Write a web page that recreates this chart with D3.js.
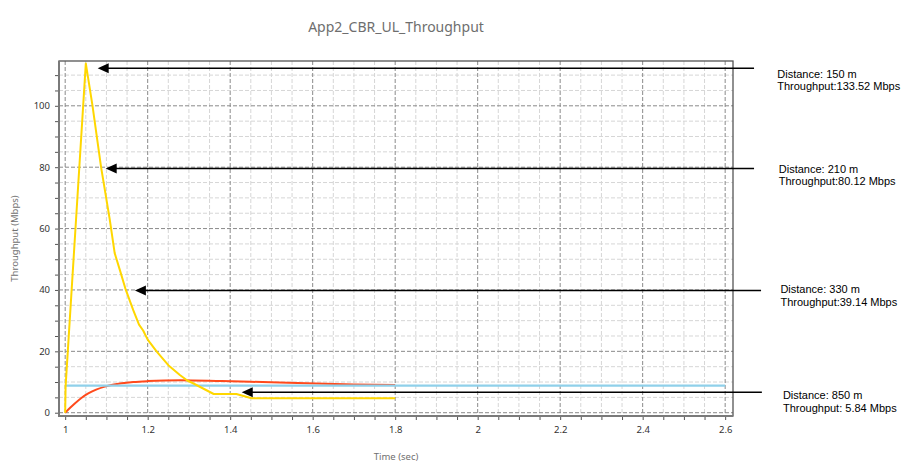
<!DOCTYPE html>
<html>
<head>
<meta charset="utf-8">
<script src="https://cdn.jsdelivr.net/npm/d3@7"></script>
<style>
  html, body { margin: 0; padding: 0; background: #fff; }
  svg { display: block; }
</style>
</head>
<body>
<div id="chart"></div>
<script>
// Series (time in sec, throughput in Mbps)
const yellowTime = [1.0, 1.001, 1.05, 1.066, 1.087, 1.108, 1.12, 1.133, 1.147, 1.165, 1.179, 1.189, 1.2, 1.222, 1.25, 1.278, 1.296, 1.31, 1.36, 1.415, 1.452, 1.8];
const yellowThroughput = [0, 8.6, 113.8, 100.2, 80, 63, 52, 46.3, 40, 33.4, 28.7, 26.8, 23.8, 19.9, 15.5, 12.3, 10.5, 9.6, 6.1, 6.1, 4.7, 4.7];

const redTime = [1.0, 1.012, 1.024, 1.04, 1.056, 1.075, 1.096, 1.115, 1.137, 1.165, 1.2, 1.28, 1.38, 1.54, 1.7, 1.8];
const redThroughput = [0, 1.6, 3.1, 4.9, 6.3, 7.5, 8.5, 9.1, 9.6, 10.0, 10.3, 10.6, 10.3, 9.8, 9.2, 9.0];

const blueTime = [1.0, 2.6];
const blueThroughput = [8.8, 8.8];

const xTicks = [1, 1.2, 1.4, 1.6, 1.8, 2, 2.2, 2.4, 2.6];
const yTicks = [0, 20, 40, 60, 80, 100];

// Arrow annotations: tip (time, Mbps), tail end time, label anchor
const annoTipTime = [1.0788, 1.0982, 1.169, 1.428];
const annoValue = [112.2, 79.6, 39.8, 6.65];
const annoEndTime = [2.670, 2.670, 2.687, 2.689];
const annoLabelTime = [2.7263, 2.730, 2.734, 2.740];
const annoLabelValue = [109.2, 78.2, 39.0, 4.5];
const annoLine1 = ["Distance: 150 m", "Distance: 210 m", "Distance: 330 m", "Distance: 850 m"];
const annoLine2 = ["Throughput:133.52 Mbps", "Throughput:80.12 Mbps", "Throughput:39.14 Mbps", "Throughput: 5.84 Mbps"];

const width = 910, height = 474;
const plot = { left: 59, right: 733, top: 61, bottom: 416 };

const svg = d3.select("#chart").append("svg")
  .attr("width", width)
  .attr("height", height);

const x = d3.scaleLinear().domain([0.985, 2.619]).range([plot.left, plot.right]);
const y = d3.scaleLinear().domain([-1.07, 114.6]).range([plot.bottom, plot.top]);

// minor ticks every 0.05 s and 5 Mbps
const xMinor = d3.range(0, 33).map(i => 1 + i * 0.05).filter(v => v <= 2.6001);
const yMinor = d3.range(0, 23).map(i => i * 5).filter(v => v <= 112);

const isMajorX = v => Math.abs(v * 5 - Math.round(v * 5)) < 1e-6;
const isMajorY = v => v % 20 === 0;

// Grid
const grid = svg.append("g");
grid.selectAll("line.vminor")
  .data(xMinor.filter(v => !isMajorX(v)))
  .enter().append("line")
  .attr("x1", d => x(d)).attr("x2", d => x(d))
  .attr("y1", plot.top).attr("y2", plot.bottom)
  .attr("stroke", "#d6d6d6").attr("stroke-width", 1).attr("stroke-dasharray", "4,2");
grid.selectAll("line.hminor")
  .data(yMinor.filter(v => !isMajorY(v)))
  .enter().append("line")
  .attr("y1", d => y(d)).attr("y2", d => y(d))
  .attr("x1", plot.left).attr("x2", plot.right)
  .attr("stroke", "#d6d6d6").attr("stroke-width", 1).attr("stroke-dasharray", "4,2");
grid.selectAll("line.vmajor")
  .data(xTicks)
  .enter().append("line")
  .attr("x1", d => x(d)).attr("x2", d => x(d))
  .attr("y1", plot.top).attr("y2", plot.bottom)
  .attr("stroke", "#8a8a8a").attr("stroke-width", 1).attr("stroke-dasharray", "4,2");
grid.selectAll("line.hmajor")
  .data(yTicks)
  .enter().append("line")
  .attr("y1", d => y(d)).attr("y2", d => y(d))
  .attr("x1", plot.left).attr("x2", plot.right)
  .attr("stroke", "#8a8a8a").attr("stroke-width", 1).attr("stroke-dasharray", "4,2");

// Axes
const xAxis = d3.axisBottom(x).tickValues(xMinor).tickSize(4)
  .tickFormat(d => isMajorX(d) ? d3.format("~g")(+d.toFixed(2)) : "");
const yAxis = d3.axisLeft(y).tickValues(yMinor).tickSize(4)
  .tickFormat(d => isMajorY(d) ? d : "");

const gx = svg.append("g").attr("transform", `translate(0,${plot.bottom})`).call(xAxis);
const gy = svg.append("g").attr("transform", `translate(${plot.left},0)`).call(yAxis);
[gx, gy].forEach(g => {
  g.select(".domain").remove();
  g.selectAll(".tick line").attr("stroke", "#555");
  g.selectAll(".tick text")
    .attr("fill", "#333")
    .style("font-family", "'Noto Sans', sans-serif")
    .style("font-size", "9.5px");
});
gx.selectAll(".tick text").attr("dy", "0.71em").attr("y", 10);
gy.selectAll(".tick text").attr("x", -9);

// Plot frame
svg.append("rect")
  .attr("x", plot.left).attr("y", plot.top)
  .attr("width", plot.right - plot.left).attr("height", plot.bottom - plot.top)
  .attr("fill", "none").attr("stroke", "#555").attr("stroke-width", 1.3);
svg.append("line")
  .attr("x1", plot.left).attr("x2", plot.left).attr("y1", plot.top).attr("y2", plot.bottom + 1)
  .attr("stroke", "#7a7a7a").attr("stroke-width", 2);
svg.append("line")
  .attr("x1", plot.left).attr("x2", plot.right).attr("y1", plot.bottom).attr("y2", plot.bottom)
  .attr("stroke", "#7a7a7a").attr("stroke-width", 2);

// Series
const line = d3.line().x(d => x(d[0])).y(d => y(d[1]));
const smooth = d3.line().x(d => x(d[0])).y(d => y(d[1])).curve(d3.curveMonotoneX);

svg.append("path")
  .datum(d3.zip(redTime, redThroughput))
  .attr("d", smooth)
  .attr("fill", "none").attr("stroke", "#ff4a1c").attr("stroke-width", 2);
svg.append("path")
  .datum(d3.zip(blueTime, blueThroughput))
  .attr("d", line)
  .attr("fill", "none").attr("stroke", "#8fd0ea").attr("stroke-width", 2.2);
svg.append("path")
  .datum(d3.zip(yellowTime, yellowThroughput))
  .attr("d", line)
  .attr("fill", "none").attr("stroke", "#ffd700").attr("stroke-width", 2)
  .attr("stroke-linejoin", "round");

// Arrows
const annos = annoTipTime.map((t, i) => ({
  tip: t, value: annoValue[i], end: annoEndTime[i],
  lx: annoLabelTime[i], ly: annoLabelValue[i],
  l1: annoLine1[i], l2: annoLine2[i]
}));

const arrows = svg.append("g").selectAll("g").data(annos).enter().append("g");
arrows.append("line")
  .attr("x1", d => x(d.tip) + 8).attr("x2", d => x(d.end))
  .attr("y1", d => y(d.value)).attr("y2", d => y(d.value))
  .attr("stroke", "#000").attr("stroke-width", 1.5);
arrows.append("path")
  .attr("d", d => {
    const tx = x(d.tip), ty = y(d.value);
    return `M${tx},${ty}L${tx + 11},${ty - 5}L${tx + 11},${ty + 5}Z`;
  })
  .attr("fill", "#000");

const labels = arrows.append("text")
  .attr("x", d => x(d.lx))
  .attr("y", d => y(d.ly))
  .style("font-family", "'Liberation Sans', Arial, sans-serif")
  .style("font-size", "11px")
  .attr("fill", "#000");
labels.append("tspan").text(d => d.l1);
labels.append("tspan").attr("x", d => x(d.lx)).attr("dy", 12.7).text(d => d.l2);

// Titles
svg.append("text")
  .attr("x", (plot.left + plot.right) / 2).attr("y", 32)
  .attr("text-anchor", "middle")
  .style("font-family", "'Noto Sans', sans-serif")
  .style("font-size", "14px")
  .attr("fill", "#6e6e6e")
  .text("App2_CBR_UL_Throughput");

svg.append("text")
  .attr("x", (plot.left + plot.right) / 2).attr("y", 460)
  .attr("text-anchor", "middle")
  .style("font-family", "'Noto Sans', sans-serif")
  .style("font-size", "9.5px")
  .attr("fill", "#707070")
  .text("Time (sec)");

svg.append("text")
  .attr("transform", `translate(18,${(plot.top + plot.bottom) / 2}) rotate(-90)`)
  .attr("text-anchor", "middle")
  .style("font-family", "'Noto Sans', sans-serif")
  .style("font-size", "9.5px")
  .attr("fill", "#707070")
  .text("Throughput (Mbps)");
</script>
</body>
</html>
